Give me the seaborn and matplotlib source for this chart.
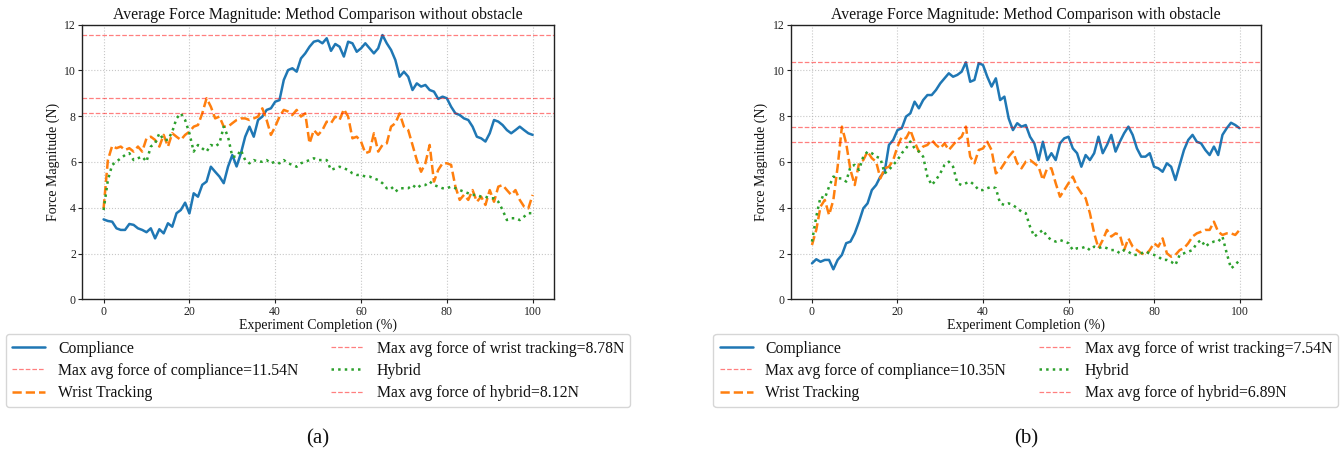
import numpy as np
import pandas as pd
import matplotlib
matplotlib.use("Agg")
import matplotlib.pyplot as plt
import seaborn as sns

# ---------------- data ----------------
completion = list(range(0, 101))

# (a) without obstacle
a_compliance = [3.49, 3.42, 3.39, 3.10, 3.03, 3.03, 3.29, 3.25, 3.10, 3.03,
                2.93, 3.10, 2.66, 3.06, 2.88, 3.32, 3.17, 3.76, 3.90, 4.22,
                3.75, 4.63, 4.48, 5.00, 5.14, 5.79, 5.57, 5.36, 5.07, 5.79,
                6.30, 5.80, 6.37, 7.10, 7.54, 7.10, 7.83, 7.98, 8.27, 8.34,
                8.63, 8.70, 9.58, 10.01, 10.09, 9.94, 10.52, 10.74, 11.03, 11.25,
                11.30, 11.18, 11.40, 10.85, 11.15, 11.03, 10.60, 11.25, 11.18, 10.81,
                10.96, 11.18, 10.96, 10.74, 10.96, 11.54, 11.18, 10.89, 10.45, 9.72,
                9.94, 9.72, 9.14, 9.43, 9.29, 9.36, 9.14, 9.07, 8.75, 8.85,
                8.78, 8.41, 8.12, 8.05, 7.90, 7.83, 7.54, 7.10, 7.03, 6.89,
                7.25, 7.83, 7.76, 7.61, 7.39, 7.25, 7.39, 7.54, 7.39, 7.25,
                7.18]
a_wrist = [3.97, 6.08, 6.70, 6.60, 6.67, 6.52, 6.60, 6.45, 6.67, 6.45,
           7.03, 7.10, 6.96, 6.67, 7.18, 6.67, 7.25, 7.10, 6.96, 7.18,
           7.32, 7.54, 7.61, 8.12, 8.78, 8.41, 7.90, 7.98, 7.54, 7.54,
           7.69, 7.83, 7.90, 7.90, 7.83, 7.90, 7.98, 8.34, 7.83, 7.18,
           7.54, 7.98, 8.27, 8.20, 8.05, 8.27, 7.98, 8.12, 6.81, 7.39,
           7.18, 7.39, 7.76, 7.69, 7.98, 7.83, 8.30, 7.98, 7.03, 7.10,
           6.89, 6.38, 6.45, 7.25, 6.45, 6.74, 6.81, 7.54, 7.69, 8.12,
           7.54, 7.39, 6.74, 6.08, 5.57, 5.94, 6.74, 5.14, 5.65, 5.94,
           5.94, 5.87, 4.92, 4.34, 4.56, 4.34, 4.77, 4.26, 4.48, 4.12,
           4.77, 4.26, 4.92, 4.99, 4.77, 4.56, 4.77, 4.34, 4.05, 3.97,
           4.56]
a_hybrid = [3.90, 5.21, 5.87, 6.01, 6.16, 6.30, 6.38, 6.08, 6.16, 6.23,
            6.01, 6.67, 6.81, 7.25, 6.96, 6.96, 7.32, 7.90, 8.12, 7.83,
            7.25, 6.45, 6.74, 6.59, 6.45, 6.74, 6.67, 6.81, 7.54, 7.10,
            6.23, 6.23, 6.52, 6.08, 5.94, 6.08, 6.01, 6.01, 6.08, 5.94,
            6.01, 5.94, 6.08, 5.94, 5.87, 5.79, 5.94, 6.01, 6.08, 6.16,
            6.08, 6.08, 6.08, 5.65, 5.72, 5.79, 5.72, 5.65, 5.50, 5.43,
            5.43, 5.36, 5.36, 5.28, 5.21, 5.07, 4.85, 4.92, 4.70, 4.85,
            4.85, 4.85, 4.99, 4.85, 4.99, 4.99, 5.14, 4.99, 4.92, 4.85,
            4.85, 4.92, 4.85, 4.77, 4.70, 4.63, 4.56, 4.56, 4.48, 4.48,
            4.41, 4.41, 4.26, 3.90, 3.46, 3.54, 3.54, 3.46, 3.61, 3.76,
            3.76]

# (b) with obstacle
b_compliance = [1.57, 1.75, 1.64, 1.72, 1.72, 1.31, 1.72, 1.94, 2.45, 2.52,
                2.88, 3.39, 3.97, 4.19, 4.77, 4.99, 5.36, 5.57, 6.74, 6.96,
                7.39, 7.47, 7.98, 8.12, 8.63, 8.34, 8.70, 8.92, 8.92, 9.14,
                9.43, 9.65, 9.87, 9.72, 9.80, 9.94, 10.35, 9.50, 9.58, 10.31,
                10.23, 9.72, 9.29, 9.65, 8.70, 8.85, 7.90, 7.39, 7.69, 7.54,
                7.61, 7.10, 6.81, 6.08, 6.88, 6.08, 6.38, 6.08, 6.81, 7.03,
                7.10, 6.59, 6.38, 5.79, 6.30, 6.08, 6.38, 7.10, 6.38, 6.74,
                7.18, 6.45, 6.88, 7.25, 7.54, 7.18, 6.59, 6.23, 6.23, 6.38,
                5.79, 5.72, 5.57, 5.94, 5.79, 5.21, 5.87, 6.52, 6.96, 7.18,
                6.88, 6.81, 6.52, 6.30, 6.67, 6.30, 7.18, 7.47, 7.71, 7.61,
                7.47]
b_wrist = [2.37, 3.03, 4.05, 4.34, 3.68, 4.34, 5.79, 7.54, 6.81, 5.65,
           4.99, 5.94, 6.08, 6.45, 6.16, 6.01, 5.28, 5.72, 5.79, 6.08,
           6.67, 7.10, 7.03, 7.39, 6.88, 6.45, 6.67, 6.74, 6.96, 6.74,
           6.59, 6.81, 6.52, 6.74, 6.96, 7.10, 7.54, 6.23, 5.94, 6.52,
           6.59, 6.88, 6.52, 5.50, 5.65, 5.94, 6.23, 6.45, 5.94, 5.72,
           6.01, 6.08, 5.94, 5.79, 5.21, 5.72, 5.72, 5.07, 4.48, 4.77,
           5.07, 5.36, 4.92, 4.63, 4.41, 3.76, 2.88, 2.23, 2.59, 3.03,
           2.74, 2.88, 2.81, 2.15, 2.66, 2.30, 2.15, 2.01, 1.94, 2.15,
           2.45, 2.30, 2.66, 2.01, 1.86, 1.94, 2.15, 2.23, 2.45, 2.74,
           2.88, 2.95, 3.03, 3.03, 3.39, 2.95, 2.81, 2.88, 2.88, 2.81,
           3.03]
b_hybrid = [2.52, 3.61, 4.48, 4.41, 4.92, 5.36, 5.28, 5.28, 5.14, 5.79,
            5.87, 5.65, 6.23, 6.45, 6.38, 6.23, 6.16, 5.50, 5.65, 5.87,
            6.08, 6.38, 6.59, 6.89, 6.59, 6.45, 6.23, 5.36, 4.99, 5.21,
            5.50, 5.87, 6.01, 5.79, 5.07, 4.99, 5.07, 5.14, 4.99, 4.77,
            4.77, 4.85, 4.92, 4.85, 4.19, 4.12, 4.19, 4.12, 3.97, 3.83,
            3.76, 3.17, 2.74, 2.88, 3.03, 2.74, 2.59, 2.52, 2.59, 2.52,
            2.45, 2.15, 2.23, 2.23, 2.30, 2.15, 2.30, 2.23, 2.30, 2.23,
            2.15, 2.15, 2.01, 2.15, 2.08, 1.94, 1.94, 2.01, 2.08, 2.01,
            1.94, 1.86, 1.72, 1.72, 1.64, 1.50, 1.94, 2.01, 2.08, 2.15,
            2.45, 2.59, 2.30, 2.45, 2.52, 2.52, 2.74, 2.01, 1.35, 1.50,
            1.72]

titles = ["Average Force Magnitude: Method Comparison without obstacle",
          "Average Force Magnitude: Method Comparison with obstacle"]
captions = ["(a)", "(b)"]
method_names = ["Compliance", "Wrist Tracking", "Hybrid"]
max_names = ["compliance", "wrist tracking", "hybrid"]

# ---------------- style ----------------
sns.set_style("ticks")
plt.rcParams["font.family"] = ["Liberation Serif", "DejaVu Serif"]
plt.rcParams["axes.edgecolor"] = "#222222"
plt.rcParams["axes.linewidth"] = 1.0
plt.rcParams["xtick.color"] = "#222222"
plt.rcParams["ytick.color"] = "#222222"
plt.rcParams["text.color"] = "#111111"
plt.rcParams["axes.labelcolor"] = "#111111"

colors = ["#1f77b4", "#ff7f0e", "#2ca02c"]
styles = ["-", "--", ":"]

fig = plt.figure(figsize=(13.4, 4.49), dpi=100)
axes = [fig.add_axes([0.0613, 0.3334, 0.3522, 0.6120]),
        fig.add_axes([0.5900, 0.3334, 0.3510, 0.6120])]

datasets = [[a_compliance, a_wrist, a_hybrid], [b_compliance, b_wrist, b_hybrid]]

for ax, series, title, cap in zip(axes, datasets, titles, captions):
    for name, mname, vals, c, ls in zip(method_names, max_names, series, colors, styles):
        df = pd.DataFrame({"x": completion, "y": vals})
        sns.lineplot(data=df, x="x", y="y", ax=ax, color=c, linestyle=ls,
                     linewidth=1.8, label=name)
        m = max(vals)
        ax.axhline(m, color="red", linestyle="--", alpha=0.5, linewidth=0.9,
                   label=f"Max avg force of {mname}={m:.2f}N")
    ax.set_xlim(-5, 105)
    ax.set_ylim(0, 12)
    ax.set_xticks([0, 20, 40, 60, 80, 100])
    ax.set_yticks([0, 2, 4, 6, 8, 10, 12])
    ax.tick_params(labelsize=8.5, length=3, width=0.8, pad=1.5)
    ax.grid(True, linestyle=":", color="#b0b0b0", alpha=0.7, linewidth=0.8)
    ax.set_title(title, fontsize=11.3, pad=4)
    ax.set_xlabel("Experiment Completion (%)", fontsize=10, labelpad=1)
    ax.set_ylabel("Force Magnitude (N)", fontsize=10, labelpad=3)
    ax.legend(loc="upper center", bbox_to_anchor=(0.5, -0.1274), borderaxespad=0,
              ncol=2, fontsize=11.3, labelspacing=0.4, handlelength=2.1,
              columnspacing=2.1, frameon=True)
    pos = ax.get_position()
    fig.text((pos.x0 + pos.x1) / 2, (449 - 439) / 449, cap, ha="center",
             va="center", fontsize=15)

fig.savefig("out.png", dpi=100)
